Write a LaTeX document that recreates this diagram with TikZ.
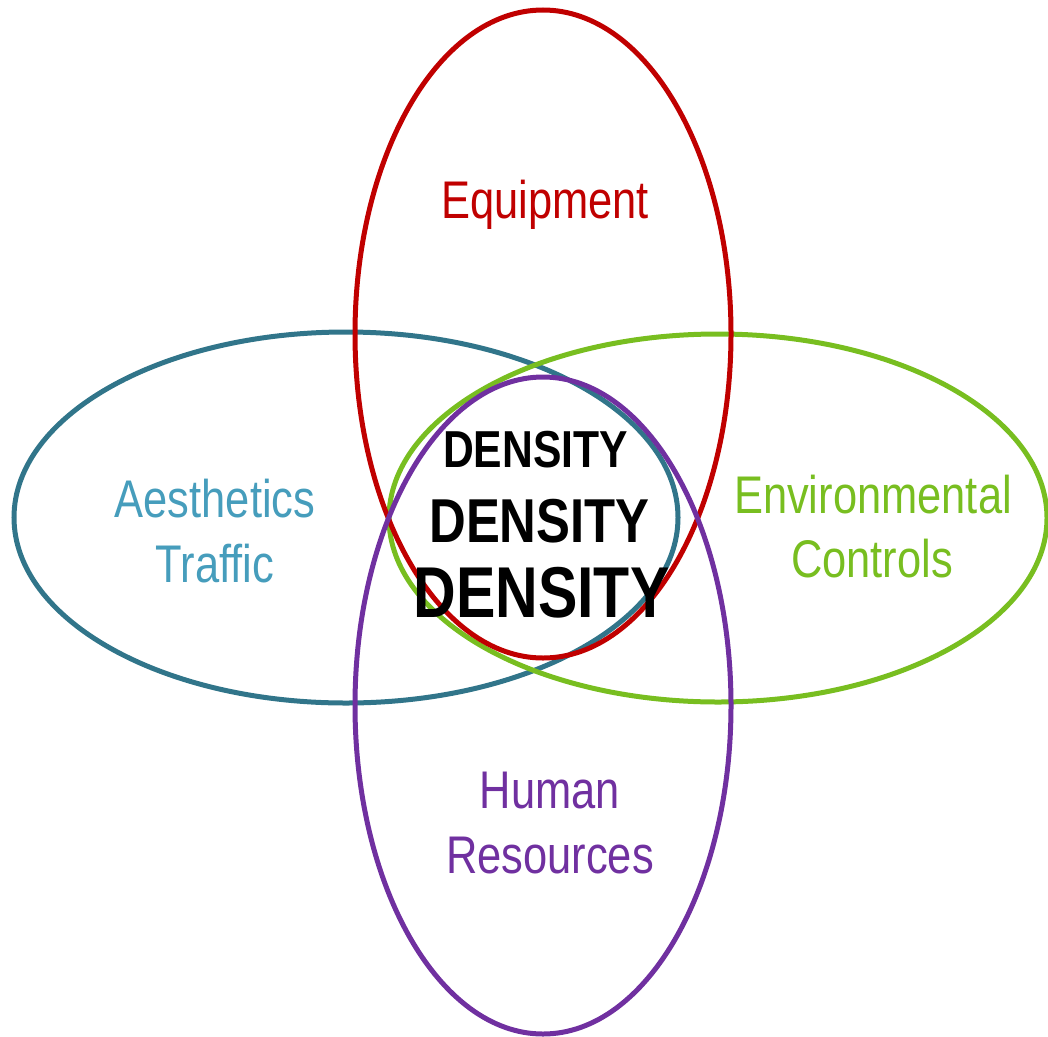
\documentclass[tikz,border=0pt]{standalone}
\usepackage{fontspec}
\setmainfont{Liberation Sans}[FakeStretch=0.82]
\definecolor{eqred}{HTML}{C00000}
\definecolor{aesteal}{HTML}{31758A}
\definecolor{aestext}{HTML}{469DBC}
\definecolor{envgreen}{HTML}{78BE20}
\definecolor{hrpurple}{HTML}{7030A0}
\tikzset{
  ring/.style={line width=5pt},
  lbl/.style={anchor=base, inner sep=0pt, font=\fontsize{53}{60}\selectfont},
  dens/.style={anchor=base, inner sep=0pt, text=black},
}
\begin{document}
\begin{tikzpicture}[x=1pt,y=-1pt]
\useasboundingbox (0,0) rectangle (1048,1036);
% the four overlapping sets
\draw[ring, aesteal] (346,517.5) ellipse [x radius=332, y radius=185.5];
\draw[ring, envgreen] (718,518) ellipse [x radius=329, y radius=184];
\draw[ring, eqred] (543,334) ellipse [x radius=188, y radius=324];
\draw[ring, hrpurple] (543,705.5) ellipse [x radius=188, y radius=328.5];
% set labels
\node[lbl, text=eqred] (equip) at (545,218) {Equipment};
\node[lbl, text=aestext] (aes1) at (215,517) {Aesthetics};
\node[lbl, text=aestext] (aes2) at (215,582) {Traffic};
\node[lbl, text=envgreen] (env1) at (873,513) {Environmental};
\node[lbl, text=envgreen] (env2) at (872,577) {Controls};
\node[lbl, text=hrpurple] (hr1) at (550,808) {Human};
\node[lbl, text=hrpurple] (hr2) at (550,873) {Resources};
% the shared core
\node[dens, font=\fontsize{52}{60}\selectfont\bfseries] (d1) at (535.5,467) {DENSITY};
\node[dens, font=\fontsize{62}{70}\selectfont\bfseries] (d2) at (539.5,542) {DENSITY};
\node[dens, font=\fontsize{72}{80}\selectfont\bfseries] (d3) at (541.5,617) {DENSITY};
\end{tikzpicture}
\end{document}
